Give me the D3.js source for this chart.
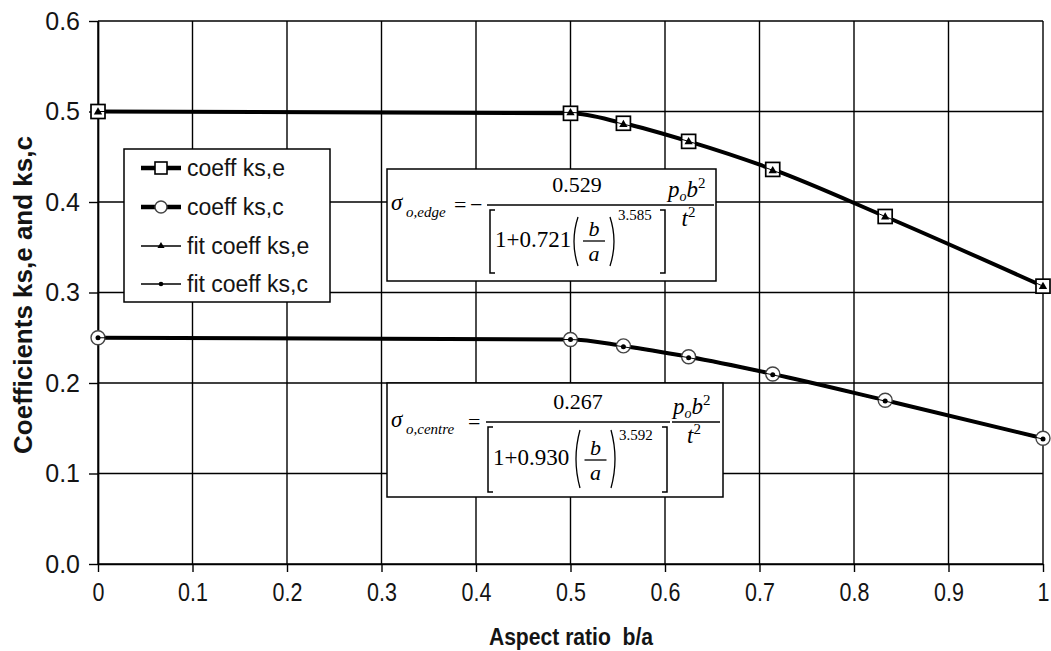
<!DOCTYPE html>
<html><head><meta charset="utf-8">
<script src="https://cdn.jsdelivr.net/npm/d3@7"></script>
<style>body{margin:0;background:#fff} svg{display:block}</style>
</head><body>
<svg id="chart" width="1051" height="651"></svg>
<script>
// ---- data ----
const aspectRatio = [0, 0.5, 0.556, 0.625, 0.714, 0.833, 1.0];
const coeffKse    = [0.500, 0.498, 0.487, 0.467, 0.436, 0.384, 0.307];
const coeffKsc    = [0.250, 0.248, 0.241, 0.229, 0.210, 0.181, 0.139];
const fitKse      = [0.500, 0.499, 0.486, 0.467, 0.435, 0.384, 0.307];
const fitKsc      = [0.250, 0.248, 0.240, 0.228, 0.209, 0.180, 0.138];

const xTicks = [0, 0.1, 0.2, 0.3, 0.4, 0.5, 0.6, 0.7, 0.8, 0.9, 1];
const xTickLabels = ["0", "0.1", "0.2", "0.3", "0.4", "0.5", "0.6", "0.7", "0.8", "0.9", "1"];
const yTicks = [0, 0.1, 0.2, 0.3, 0.4, 0.5, 0.6];
const yTickLabels = ["0.0", "0.1", "0.2", "0.3", "0.4", "0.5", "0.6"];
const legendLabels = ["coeff ks,e", "coeff ks,c", "fit coeff ks,e", "fit coeff ks,c"];
const xTitle = "Aspect ratio  b/a";
const yTitle = "Coefficients ks,e and ks,c";
const edgeFormula   = { sub: "o,edge",   sign: "−", coef: "0.529", mult: "0.721", exp: "3.585" };
const centreFormula = { sub: "o,centre", sign: "",  coef: "0.267", mult: "0.930", exp: "3.592" };

// ---- chart ----
const svg = d3.select("#chart");
const SANS = "'Liberation Sans', Arial, sans-serif";
const SERIF = "'Liberation Serif', 'Times New Roman', serif";
const INK = "#141414";

const x = d3.scaleLinear().domain([0, 1]).range([98, 1043]);
const y = d3.scaleLinear().domain([0, 0.6]).range([564, 21]);

// grid
const grid = svg.append("g").attr("stroke", "#000").attr("stroke-width", 1.4);
grid.selectAll(".vx").data(xTicks).join("line")
  .attr("x1", d => x(d)).attr("x2", d => x(d))
  .attr("y1", y(0)).attr("y2", y(0.6));
grid.selectAll(".hy").data(yTicks).join("line")
  .attr("x1", x(0)).attr("x2", x(1))
  .attr("y1", d => y(d)).attr("y2", d => y(d));

// axes
const yAxis = svg.append("g").attr("transform", `translate(${x(0)},0)`)
  .call(d3.axisLeft(y).tickValues(yTicks).tickFormat((d, i) => yTickLabels[i])
        .tickSize(9).tickSizeOuter(0).tickPadding(9));
const xAxis = svg.append("g").attr("transform", `translate(0,${y(0)})`)
  .call(d3.axisBottom(x).tickValues(xTicks).tickFormat((d, i) => xTickLabels[i])
        .tickSize(8).tickSizeOuter(0).tickPadding(11));
[yAxis, xAxis].forEach(a => {
  a.select(".domain").attr("stroke", "#000").attr("stroke-width", 1.7);
  a.selectAll(".tick line").attr("stroke", "#000").attr("stroke-width", 1.4);
  a.selectAll(".tick text").attr("fill", INK).style("font-family", SANS).style("font-size", "25px");
});
// x labels are drawn slightly condensed, as in the reference
xAxis.selectAll(".tick text").attr("transform", "scale(0.86,1)");

// axis titles
svg.append("text")
  .attr("transform", "translate(23,295) rotate(-90)")
  .attr("text-anchor", "middle").attr("dominant-baseline", "central")
  .style("font-family", SANS).style("font-size", "26px").style("font-weight", "bold")
  .attr("fill", INK).text(yTitle);
svg.append("text")
  .attr("transform", "translate(571,645) scale(0.88,1)").attr("text-anchor", "middle")
  .style("font-family", SANS).style("font-size", "24px").style("font-weight", "bold")
  .style("white-space", "pre").attr("fill", INK).text(xTitle);

// legend box (drawn over the grid)
const leg = svg.append("g");
leg.append("rect").attr("x", 124).attr("y", 149).attr("width", 206).attr("height", 153)
  .attr("fill", "#fff").attr("stroke", "#000").attr("stroke-width", 1.5);

// formula boxes
function drawFormula(bx, by, bw, bh, f, L) {
  const g = svg.append("g").attr("transform", `translate(${bx},${by})`);
  g.append("rect").attr("width", bw).attr("height", bh)
    .attr("fill", "#fff").attr("stroke", "#000").attr("stroke-width", 1.5);
  const t = (tx, ty, s, size, italic, anchor) => g.append("text")
    .attr("x", tx).attr("y", ty).attr("text-anchor", anchor || "start")
    .style("font-family", SERIF).style("font-size", size + "px")
    .style("font-style", italic ? "italic" : "normal").attr("fill", "#000").text(s);
  // sigma with subscript
  t(4, L.sigY, "σ", 23, true);
  t(19, L.sigY + 7, f.sub, 15, true);
  // equals & sign
  t(L.eqX, L.barY + 7, "=", 22, false);
  if (f.sign) t(L.eqX + 16, L.barY + 7, f.sign, 22, false);
  // main fraction
  g.append("line").attr("x1", L.barX1).attr("x2", L.barX2).attr("y1", L.barY).attr("y2", L.barY)
    .attr("stroke", "#000").attr("stroke-width", 1.5);
  t((L.barX1 + L.barX2) / 2, L.barY - 13, f.coef, 22, false, "middle");
  // brackets
  const bk = g.append("g").attr("fill", "none").attr("stroke", "#000").attr("stroke-width", 1.5);
  bk.append("path").attr("d", `M${L.bkL + 5},${L.bkT}H${L.bkL}V${L.bkB}H${L.bkL + 5}`);
  bk.append("path").attr("d", `M${L.bkR - 5},${L.bkT}H${L.bkR}V${L.bkB}H${L.bkR - 5}`);
  t(L.bkL + 5, L.oneY, "1+" + f.mult, 23, false);
  // parentheses with b/a
  const pm = (L.pT + L.pB) / 2;
  bk.append("path").attr("d", `M${L.pL + 5},${L.pT}Q${L.pL - 3},${pm} ${L.pL + 5},${L.pB}`).attr("stroke-width", 1.3);
  bk.append("path").attr("d", `M${L.pR - 5},${L.pT}Q${L.pR + 3},${pm} ${L.pR - 5},${L.pB}`).attr("stroke-width", 1.3);
  const pc = (L.pL + L.pR) / 2;
  g.append("line").attr("x1", pc - 11).attr("x2", pc + 11).attr("y1", L.smallBar).attr("y2", L.smallBar)
    .attr("stroke", "#000").attr("stroke-width", 1.3);
  t(pc, L.smallBar - 5, "b", 22, true, "middle");
  t(pc, L.smallBar + 20, "a", 22, true, "middle");
  t(L.pR + 3, L.expY, f.exp, 15, false);
  // p_o b^2 / t^2
  g.append("line").attr("x1", L.rX1).attr("x2", L.rX2).attr("y1", L.barY).attr("y2", L.barY)
    .attr("stroke", "#000").attr("stroke-width", 1.5);
  const num = g.append("text").attr("x", L.rX1 + 1).attr("y", L.barY - 8)
    .style("font-family", SERIF).style("font-size", "23px").style("font-style", "italic").attr("fill", "#000");
  num.append("tspan").text("p");
  num.append("tspan").attr("dy", 4).style("font-size", "14px").text("o");
  num.append("tspan").attr("dy", -4).text("b");
  num.append("tspan").attr("dy", -9).style("font-size", "15px").style("font-style", "normal").text("2");
  const den = g.append("text").attr("x", (L.rX1 + L.rX2) / 2 - 2).attr("y", L.barY + 21)
    .attr("text-anchor", "middle")
    .style("font-family", SERIF).style("font-size", "23px").style("font-style", "italic").attr("fill", "#000");
  den.append("tspan").text("t");
  den.append("tspan").attr("dy", -9).style("font-size", "15px").style("font-style", "normal").text("2");
}
drawFormula(387, 169, 329, 112, edgeFormula, {
  sigY: 41, eqX: 67, barY: 36, barX1: 100, barX2: 280,
  bkL: 103, bkR: 278, bkT: 41, bkB: 104, oneY: 78,
  pL: 186, pR: 228, pT: 48, pB: 97, smallBar: 72, expY: 51,
  rX1: 280, rX2: 327
});
drawFormula(387, 383, 336, 114, centreFormula, {
  sigY: 44, eqX: 81, barY: 39, barX1: 99, barX2: 283,
  bkL: 101, bkR: 280, bkT: 44, bkB: 109, oneY: 82,
  pL: 188, pR: 229, pT: 47, pB: 105, smallBar: 77, expY: 57,
  rX1: 285, rX2: 333
});

// series
const line = d3.line().x(d => x(d[0])).y(d => y(d[1])).curve(d3.curveMonotoneX);
const zip = vals => aspectRatio.map((a, i) => [a, vals[i]]);

function thick(vals) {
  svg.append("path").datum(zip(vals)).attr("d", line)
    .attr("fill", "none").attr("stroke", "#000").attr("stroke-width", 4);
}
thick(coeffKse);
thick(coeffKsc);
// square markers
svg.append("g").selectAll("rect").data(zip(coeffKse)).join("rect")
  .attr("x", d => x(d[0]) - 7).attr("y", d => y(d[1]) - 7).attr("width", 14).attr("height", 14)
  .attr("fill", "#fff").attr("stroke", "#000").attr("stroke-width", 1.7);
// circle markers
svg.append("g").selectAll("circle").data(zip(coeffKsc)).join("circle")
  .attr("cx", d => x(d[0])).attr("cy", d => y(d[1])).attr("r", 7)
  .attr("fill", "#fff").attr("stroke", "#444").attr("stroke-width", 1.4);
// fit lines
[fitKse, fitKsc].forEach(v => svg.append("path").datum(zip(v)).attr("d", line)
  .attr("fill", "none").attr("stroke", "#000").attr("stroke-width", 1));
svg.append("g").selectAll("path").data(zip(fitKse)).join("path")
  .attr("transform", d => `translate(${x(d[0])},${y(d[1]) + 0.5})`)
  .attr("d", d3.symbol(d3.symbolTriangle, 30)).attr("fill", "#000");
svg.append("g").selectAll("circle").data(zip(fitKsc)).join("circle")
  .attr("cx", d => x(d[0])).attr("cy", d => y(d[1])).attr("r", 2.5).attr("fill", "#000");

// legend entries
const rowsY = [168, 207, 246, 284];
legendLabels.forEach((lab, i) => {
  const ry = rowsY[i];
  const thickRow = i < 2;
  leg.append("line").attr("x1", 141).attr("x2", 181).attr("y1", ry).attr("y2", ry)
    .attr("stroke", "#000").attr("stroke-width", thickRow ? 4.5 : 1.3);
  if (i === 0) leg.append("rect").attr("x", 155).attr("y", ry - 6).attr("width", 12).attr("height", 12)
    .attr("fill", "#fff").attr("stroke", "#000").attr("stroke-width", 1.6);
  if (i === 1) leg.append("circle").attr("cx", 161).attr("cy", ry).attr("r", 6)
    .attr("fill", "#fff").attr("stroke", "#444").attr("stroke-width", 1.4);
  if (i === 2) leg.append("path").attr("transform", `translate(161,${ry})`)
    .attr("d", d3.symbol(d3.symbolTriangle, 22)).attr("fill", "#000");
  if (i === 3) leg.append("circle").attr("cx", 161).attr("cy", ry).attr("r", 2.3).attr("fill", "#000");
  leg.append("text").attr("x", 187).attr("y", ry).attr("dominant-baseline", "central")
    .style("font-family", SANS).style("font-size", "23px").attr("fill", INK).text(lab);
});
</script>
</body></html>
